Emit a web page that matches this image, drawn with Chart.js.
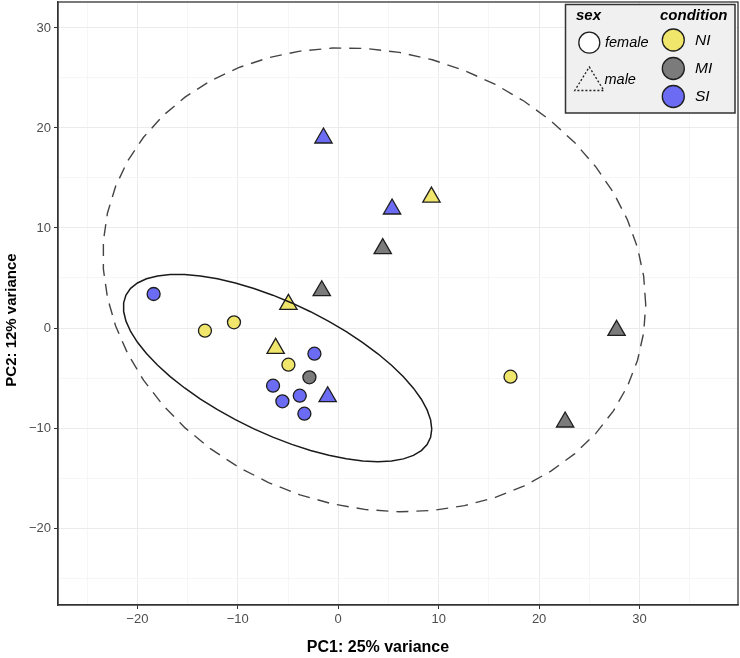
<!DOCTYPE html>
<html><head><meta charset="utf-8">
<script src="https://cdn.jsdelivr.net/npm/chart.js@4.4.0/dist/chart.umd.min.js"></script>
<style>html,body{margin:0;padding:0;background:#fff}#wrap{width:740px;height:658px}</style>
</head><body><div id="wrap"><canvas id="c" width="740" height="658"></canvas></div>
<script>
// ---- data ----
const pc1 = [-18.38, -13.27, -10.38, -2.37, -4.96, -2.87, -6.49, -3.83, -5.56, -3.37, 17.15,
             -4.96, -1.64, -6.23, -1.05, -1.47, 9.28, 5.36, 4.43, 27.71, 22.59];
const pc2 = [3.40, -0.27, 0.57, -2.57, -3.67, -4.93, -5.77, -6.77, -7.33, -8.57, -4.87,
             2.36, 3.73, -2.04, -6.87, 19.00, 13.09, 11.90, 7.94, -0.24, -9.40];
const sex = ['female','female','female','female','female','female','female','female','female','female','female',
             'male','male','male','male','male','male','male','male','male','male'];
const condition = ['SI','NI','NI','SI','NI','MI','SI','SI','SI','SI','NI',
                   'NI','MI','NI','SI','SI','NI','SI','MI','MI','MI'];
const sexLevels = ['female','male'];
const conditionLevels = ['NI','MI','SI'];
const xTickValues = [-20, -10, 0, 10, 20, 30];
const yTickValues = [-20, -10, 0, 10, 20, 30];
const xTitle = 'PC1: 25% variance';
const yTitle = 'PC2: 12% variance';

// ---- styles ----
const condColor = {NI:'#F0E66C', MI:'#7B7B7B', SI:'#6B6BF4'};
const FONT = "'Liberation Sans', Arial, Helvetica, sans-serif";

// ---- stat_ellipse (type "t": MASS::cov.trob, level 0.95) ----
function covTrob(pts, nu = 5, maxit = 25, tol = 0.01) {
  const n = pts.length, p = 2;
  let loc = [pts.reduce((s, q) => s + q[0], 0) / n, pts.reduce((s, q) => s + q[1], 0) / n];
  let w = new Array(n).fill(1);
  let X = [];
  for (let it = 0; it < maxit; it++) {
    const w0 = w.slice();
    X = pts.map(q => [q[0] - loc[0], q[1] - loc[1]]);
    const sw = w.reduce((a, b) => a + b, 0);
    let a = 0, b = 0, c = 0;
    X.forEach((x, i) => { a += w[i] / sw * x[0] * x[0]; b += w[i] / sw * x[0] * x[1]; c += w[i] / sw * x[1] * x[1]; });
    const det = a * c - b * b;
    const ia = c / det, ib = -b / det, ic = a / det;
    w = X.map(x => (nu + p) / (nu + (ia * x[0] * x[0] + 2 * ib * x[0] * x[1] + ic * x[1] * x[1])));
    const sw2 = w.reduce((s, v) => s + v, 0);
    loc = [pts.reduce((s, q, i) => s + w[i] * q[0], 0) / sw2, pts.reduce((s, q, i) => s + w[i] * q[1], 0) / sw2];
    if (w.every((v, i) => Math.abs(v - w0[i]) < tol)) break;
  }
  let a = 0, b = 0, c = 0;
  X.forEach((x, i) => { a += w[i] * x[0] * x[0]; b += w[i] * x[0] * x[1]; c += w[i] * x[1] * x[1]; });
  return {center: loc, cov: [a / n, b / n, c / n]};
}
function ellipsePoints(pts, level = 0.95, segments = 51) {
  const n = pts.length;
  const v = covTrob(pts);
  const m = n - 1;
  const qf = (m / 2) * (Math.pow(1 - level, -2 / m) - 1); // qf(level, 2, m)
  const radius = Math.sqrt(2 * qf);
  const u11 = Math.sqrt(v.cov[0]), u12 = v.cov[1] / u11, u22 = Math.sqrt(v.cov[2] - u12 * u12);
  const out = [];
  for (let k = 0; k <= segments; k++) {
    const t = k * 2 * Math.PI / segments;
    const cx = Math.cos(t), sy = Math.sin(t);
    out.push({x: v.center[0] + radius * (cx * u11), y: v.center[1] + radius * (cx * u12 + sy * u22)});
  }
  return out;
}

const datasets = [];
sexLevels.forEach(s => {
  conditionLevels.forEach(cnd => {
    const d = [];
    pc1.forEach((x, i) => { if (sex[i] === s && condition[i] === cnd) d.push({x, y: pc2[i]}); });
    datasets.push({
      label: s + ' ' + cnd, data: d, order: 2,
      pointStyle: s === 'female' ? 'circle' : 'triangle',
      pointRadius: s === 'female' ? 6.5 : 10,
      pointHoverRadius: s === 'female' ? 6.5 : 10,
      backgroundColor: condColor[cnd], borderColor: '#1e1e1e', borderWidth: 1.3,
      showLine: false
    });
  });
});
sexLevels.forEach(s => {
  const pts = [];
  pc1.forEach((x, i) => { if (sex[i] === s) pts.push([x, pc2[i]]); });
  datasets.push({
    label: s + ' ellipse', data: ellipsePoints(pts), order: 1,
    showLine: true, pointRadius: 0, pointHoverRadius: 0, fill: false, tension: 0,
    borderColor: s === 'female' ? '#1a1a1a' : '#444444',
    borderWidth: s === 'female' ? 1.5 : 1.4,
    borderDash: s === 'female' ? [] : [12, 8]
  });
});

const fmt = v => (v < 0 ? '\u2212' + Math.abs(v) : String(v));

const decor = {
  id: 'decor',
  afterDatasetsDraw(chart) {
    const ctx = chart.ctx, a = chart.chartArea;
    ctx.save();
    ctx.strokeStyle = '#333333'; ctx.lineWidth = 1.3;
    ctx.strokeRect(a.left, a.top, a.right - a.left, a.bottom - a.top);
    // legend
    ctx.fillStyle = '#F0F0F0'; ctx.strokeStyle = '#333333'; ctx.lineWidth = 1.5;
    ctx.fillRect(565.5, 4.5, 169.5, 108.5); ctx.strokeRect(565.5, 4.5, 169.5, 108.5);
    ctx.fillStyle = '#000'; ctx.textBaseline = 'middle'; ctx.textAlign = 'left';
    ctx.font = 'italic bold 15px ' + FONT;
    ctx.fillText('sex', 576, 16);
    ctx.fillText('condition', 660, 16);
    // female key
    ctx.beginPath(); ctx.arc(589.3, 42.7, 10.5, 0, Math.PI * 2);
    ctx.fillStyle = '#FFFFFF'; ctx.fill(); ctx.strokeStyle = '#1e1e1e'; ctx.lineWidth = 1.3; ctx.stroke();
    // male key (dotted)
    ctx.beginPath(); ctx.moveTo(589.3, 67); ctx.lineTo(603.8, 90.5); ctx.lineTo(574.8, 90.5); ctx.closePath();
    ctx.setLineDash([2, 2]); ctx.stroke(); ctx.setLineDash([]);
    ctx.fillStyle = '#000'; ctx.font = 'italic 14.5px ' + FONT;
    ctx.fillText(sexLevels[0], 605, 43);
    ctx.fillText(sexLevels[1], 604.5, 80);
    const ys = [40, 68.5, 96.5];
    conditionLevels.forEach((cnd, i) => {
      ctx.beginPath(); ctx.arc(673.3, ys[i], 11, 0, Math.PI * 2);
      ctx.fillStyle = condColor[cnd]; ctx.fill(); ctx.strokeStyle = '#1e1e1e'; ctx.lineWidth = 1.3; ctx.stroke();
      ctx.fillStyle = '#000'; ctx.font = 'italic 15.5px ' + FONT;
      ctx.fillText(cnd, 695, ys[i] + 0.5);
    });
    // axis titles
    ctx.fillStyle = '#000'; ctx.textAlign = 'center'; ctx.textBaseline = 'middle';
    ctx.font = 'bold 16px ' + FONT;
    ctx.fillText(xTitle, 378, 648);
    ctx.translate(12, 320); ctx.rotate(-Math.PI / 2);
    ctx.font = 'bold 15px ' + FONT;
    ctx.fillText(yTitle, 0, 0);
    ctx.restore();
  }
};

function axis(min, max, majors, isX) {
  return {
    type: 'linear', min, max,
    afterBuildTicks(scale) {
      const t = [];
      for (let v = Math.ceil(min / 5) * 5; v <= max; v += 5) t.push({value: v, major: majors.includes(v)});
      scale.ticks = t;
    },
    afterFit(scale) {
      if (isX) scale.height = 53; else scale.width = 58;
      scale.paddingTop = 0; scale.paddingBottom = 0; scale.paddingLeft = 0; scale.paddingRight = 0;
    },
    ticks: {
      autoSkip: false, maxRotation: 0, padding: 3,
      color: '#4D4D4D', font: {family: FONT, size: 13},
      callback: (v) => (majors.includes(v) ? fmt(v) : '')
    },
    grid: {
      color: c => (c.tick && majors.includes(c.tick.value) ? '#EBEBEB' : '#F4F4F4'),
      lineWidth: c => (c.tick && majors.includes(c.tick.value) ? 1 : 0.8),
      tickColor: c => (c.tick && majors.includes(c.tick.value) ? '#333333' : 'rgba(0,0,0,0)'),
      tickLength: 4, drawTicks: true
    },
    border: {display: true, color: '#333333', width: 1.3}
  };
}

new Chart(document.getElementById('c'), {
  type: 'scatter',
  data: {datasets},
  options: {
    responsive: false, animation: false, devicePixelRatio: 1,
    layout: {autoPadding: false, padding: {top: 2, right: 2, left: 0, bottom: 0}},
    plugins: {legend: {display: false}, tooltip: {enabled: false}, title: {display: false}},
    scales: {
      x: axis(-27.9, 39.8, xTickValues, true),
      y: axis(-27.7, 32.6, yTickValues, false)
    }
  },
  plugins: [decor]
});
</script>
</body></html>
